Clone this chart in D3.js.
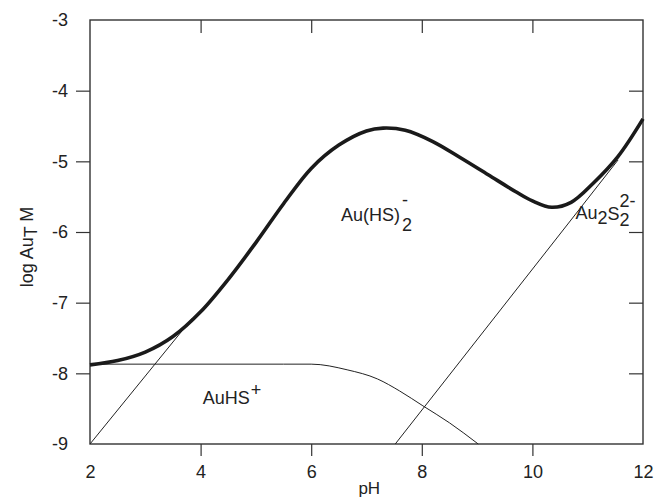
<!DOCTYPE html>
<meta charset="utf-8">
<style>
body {
  margin: 0;
  background: #fff;
}
text {
  font-family: "Liberation Sans", Arial, sans-serif;
  fill: #222;
}
.axis line {
  stroke: #333;
  stroke-width: 1.2px;
}
.frame {
  fill: none;
  stroke: #333;
  stroke-width: 1.4px;
}
.thin {
  fill: none;
  stroke: #222;
  stroke-width: 1px;
}
.total {
  fill: none;
  stroke: #1a1a1a;
  stroke-width: 3.6px;
}
</style>
<div id="chart"></div>
<script src="https://cdnjs.cloudflare.com/ajax/libs/d3/7.8.5/d3.min.js"></script>
<script>
// tick values
var xTicks = [2, 4, 6, 8, 10, 12];
var yTicks = [-3, -4, -5, -6, -7, -8, -9];

// total dissolved gold (thick curve), [pH, log Au]
var totalAu = [[2, -7.88], [2.5, -7.82], [3.0, -7.70], [3.5, -7.48], [4.0, -7.13],
  [4.5, -6.67], [5.0, -6.15], [5.5, -5.60], [6.0, -5.10], [6.5, -4.77],
  [7.0, -4.57], [7.3, -4.53], [7.7, -4.56], [8.2, -4.72], [8.7, -4.95],
  [9.2, -5.19], [9.7, -5.43], [10.0, -5.56], [10.35, -5.65], [10.7, -5.58],
  [11.1, -5.31], [11.55, -4.93], [12, -4.40]];
// species lines
var auHSplus = [[2, -7.87], [5.5, -7.87], [6, -7.87], [6.65, -7.95], [7.2, -8.08],
  [7.6, -8.25], [8.02, -8.46], [8.5, -8.70], [9.02, -9.0]];
var auHS2 = [[2, -9], [3.85, -7.22]];
var au2S2 = [[7.52, -9], [11.55, -4.98]];

var margin = {top: 20, right: 14, bottom: 56, left: 90},
    width = 657 - margin.left - margin.right,
    height = 500 - margin.top - margin.bottom;

var x = d3.scaleLinear().domain([2, 12]).range([0, width]);
var y = d3.scaleLinear().domain([-9, -3]).range([height, 0]);

var svg = d3.select("#chart").append("svg")
    .attr("width", 657)
    .attr("height", 500)
  .append("g")
    .attr("transform", "translate(" + margin.left + "," + margin.top + ")");

function isEnd(v, list) { return v === list[0] || v === list[list.length - 1]; }
var plain = function(d) { return String(d); };  // hyphen minus, no decimals

// bottom axis, ticks outward
var gx = svg.append("g")
    .attr("class", "axis")
    .attr("transform", "translate(0," + height + ")")
    .call(d3.axisBottom(x).tickValues(xTicks).tickFormat(plain).tickSize(12).tickPadding(9).tickSizeOuter(0));
// left axis, ticks outward
var gy = svg.append("g")
    .attr("class", "axis")
    .call(d3.axisLeft(y).tickValues(yTicks).tickFormat(plain).tickSize(14).tickPadding(8).tickSizeOuter(0));
// top and right, inward ticks only
var gt = svg.append("g")
    .attr("class", "axis")
    .call(d3.axisTop(x).tickValues(xTicks).tickSize(-13).tickFormat("").tickSizeOuter(0));
var gr = svg.append("g")
    .attr("class", "axis")
    .attr("transform", "translate(" + width + ",0)")
    .call(d3.axisRight(y).tickValues(yTicks).tickSize(-14).tickFormat("").tickSizeOuter(0));

[gx, gt].forEach(function(g) {
  g.selectAll(".tick line").filter(function(d) { return isEnd(d, xTicks); }).remove();
});
[gy, gr].forEach(function(g) {
  g.selectAll(".tick line").filter(function(d) { return isEnd(d, yTicks); }).remove();
});
svg.selectAll(".axis .domain").remove();
svg.selectAll(".axis text")
    .style("font-size", "18px")
    .style("font-family", "'Liberation Sans', Arial, sans-serif")
    .style("fill", "#222");

svg.append("rect")
    .attr("class", "frame")
    .attr("width", width)
    .attr("height", height);

var line = d3.line()
    .x(function(d) { return x(d[0]); })
    .y(function(d) { return y(d[1]); });

svg.append("path").datum(auHS2).attr("class", "thin").attr("d", line);
svg.append("path").datum(au2S2).attr("class", "thin").attr("d", line);
svg.append("path").datum(auHSplus).attr("class", "thin")
    .attr("d", line.curve(d3.curveMonotoneX));
svg.append("path").datum(totalAu).attr("class", "total")
    .attr("d", line.curve(d3.curveCatmullRom.alpha(0.5)));

// species labels (offsets relative to a base point)
function label(px, py) {
  return svg.append("text")
      .attr("font-size", 18)
      .attr("transform", "translate(" + x(px) + "," + y(py) + ")");
}

var t1 = label(6.54, -5.85);
t1.append("tspan").text("Au(HS)");
t1.append("tspan").attr("x", 61).attr("y", -15).text("-");
t1.append("tspan").attr("x", 61).attr("y", 10).text("2");

var t2 = label(10.78, -5.82);
t2.append("tspan").text("Au");
t2.append("tspan").attr("y", 5).text("2");
t2.append("tspan").attr("y", 1).text("S");
t2.append("tspan").attr("x", 44).attr("y", -12).text("2-");
t2.append("tspan").attr("x", 44).attr("y", 7).text("2");

var t3 = label(4.04, -8.43);
t3.append("tspan").text("AuHS");
t3.append("tspan").attr("x", 48).attr("y", -8).text("+");

// axis titles
svg.append("text")
    .attr("font-size", 17)
    .attr("text-anchor", "middle")
    .attr("x", x(7.05))
    .attr("y", height + 50)
    .text("pH");

var yl = svg.append("text")
    .attr("font-size", 18)
    .attr("text-anchor", "middle")
    .attr("transform", "translate(" + (-57) + "," + (height / 2 + 15) + ")rotate(-90)");
yl.append("tspan").text("log Au");
yl.append("tspan").attr("dy", 4).text("T");
yl.append("tspan").attr("dy", -4).text(" M");
</script>
